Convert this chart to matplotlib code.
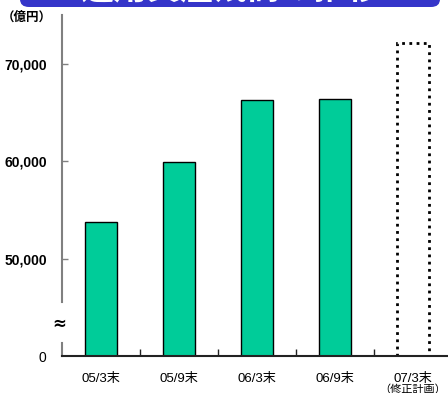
import matplotlib
matplotlib.use("Agg")
import matplotlib.pyplot as plt
from matplotlib.patches import FancyBboxPatch

plt.rcParams['font.family'] = ['Liberation Sans', 'Noto Sans CJK JP', 'DejaVu Sans']

categories = ["05/3末", "05/9末", "06/3末", "06/9末", "07/3末"]
values = [53800, 59900, 66300, 66400]          # actual balances (億円)
plan_value = 72200                             # revised plan
ytick_values = [40000, 50000, 60000, 70000]
ytick_labels = ["0", "50,000", "60,000", "70,000"]
title_text = "運用資産残高の推移"
unit_text = "（億円）"
plan_note = "（修正計画）"

fig = plt.figure(figsize=(4.48, 3.93), dpi=100)
ax = fig.add_axes([62/448, 37/393, 386/448, 341/393])

x = list(range(len(categories)))
ax.bar(x[:len(values)], values, width=0.4, color="#00CC99",
       edgecolor="black", linewidth=1.0, zorder=2)
ax.bar([x[-1]], [plan_value], width=0.4, facecolor="none",
       edgecolor="black", linewidth=2.0, linestyle=(0, (1, 1.6)), zorder=2)

ax.set_xlim(-0.5, -0.5 + 386/78)
ax.set_ylim(40000, 75050)

# y axis: broken left spine
ax.spines['left'].set_visible(False)
ax.spines['top'].set_visible(False)
ax.spines['right'].set_visible(False)
ax.spines['bottom'].set_color("#222222")
ax.spines['bottom'].set_linewidth(1.5)
ax.axvline(-0.5, ymin=0.158, ymax=1.0, color="#808080", linewidth=1.5, clip_on=False)
ax.axvline(-0.5, ymin=0.0, ymax=0.038, color="#808080", linewidth=1.5, clip_on=False)
ax.text(-0.5 - 3/78, 43300, "≈", ha="center", va="center", fontsize=12,
        fontweight="bold", family="DejaVu Sans", clip_on=False)

ax.set_yticks(ytick_values)
ax.set_yticklabels(ytick_labels)
ax.tick_params(axis="y", direction="in", length=4, width=1, color="#808080",
               pad=11, labelsize=10)
for lbl in ax.get_yticklabels()[1:]:
    lbl.set_fontweight("bold")
ax.yaxis.get_major_ticks()[0].tick1line.set_visible(False)

ax.set_xticks(x)
ax.set_xticklabels(categories)
ax.tick_params(axis="x", which="major", length=0, pad=12, labelsize=9.5)
ax.set_xticks([0.5, 1.5, 2.5, 3.5], minor=True)
ax.tick_params(axis="x", which="minor", direction="in", length=5, width=1, color="#222222")

fig.text(27/448, 1 - 18/393, unit_text, ha="center", va="center",
         fontsize=9, fontweight="bold")
ax.text(4, -0.098, plan_note, transform=ax.get_xaxis_transform(),
        ha="center", va="center", fontsize=8)

# title banner
banner = FancyBboxPatch((20/448, 1 - 7/393), 420/448, 0.2,
                        boxstyle="round,pad=0,rounding_size=0.02",
                        transform=fig.transFigure, facecolor="#3535C9",
                        edgecolor="none")
fig.patches.append(banner)
fig.text(230/448, 1 + 1/393, title_text, ha="center", va="baseline",
         color="white", fontsize=24, fontweight="bold")

fig.savefig("out.png", dpi=100)
